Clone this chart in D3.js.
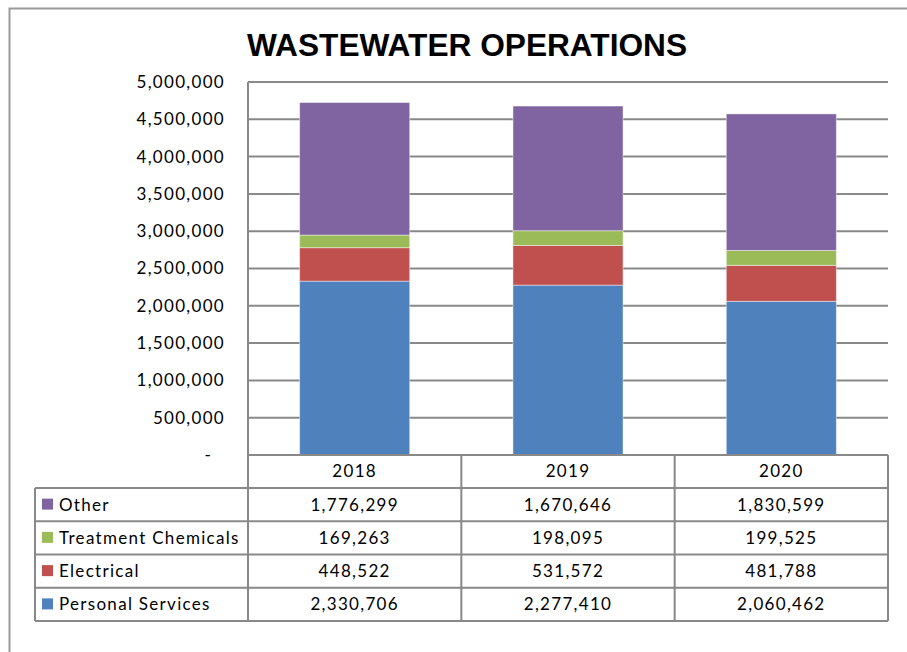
<!DOCTYPE html>
<html>
<head>
<meta charset="utf-8">
<script src="https://cdn.jsdelivr.net/npm/d3@7"></script>
<style>
  body { margin: 0; background: #fff; }
  svg { display: block; }
</style>
</head>
<body>
<div id="chart"></div>
<script>
// data
var years = ["2018", "2019", "2020"];
var seriesNames = ["Personal Services", "Electrical", "Treatment Chemicals", "Other"];
var personalServices = [2330706, 2277410, 2060462];
var electrical = [448522, 531572, 481788];
var treatmentChemicals = [169263, 198095, 199525];
var other = [1776299, 1670646, 1830599];
var colors = ["#4F81BD", "#C0504D", "#9BBB59", "#8064A2"];
var yTicks = [0, 500000, 1000000, 1500000, 2000000, 2500000, 3000000, 3500000, 4000000, 4500000, 5000000];

var width = 907, height = 652;
var plotLeft = 248, plotRight = 888, plotTop = 82, plotBottom = 455;
var tableBottom = 621, legendLeft = 35;
var font = "Lato, 'Open Sans', sans-serif";
var fontSize = "17px", spacing = "1.3px";
var gridColor = "#898989";

var rows = years.map(function(yr, i) {
  return {
    year: yr,
    "Personal Services": personalServices[i],
    "Electrical": electrical[i],
    "Treatment Chemicals": treatmentChemicals[i],
    "Other": other[i]
  };
});

var svg = d3.select("#chart").append("svg")
  .attr("width", width)
  .attr("height", height);

// outer frame
svg.append("rect")
  .attr("x", 9.5).attr("y", 8.5)
  .attr("width", width + 10).attr("height", height + 10)
  .attr("fill", "none")
  .attr("stroke", "#9a9a9a")
  .attr("stroke-width", 2);

svg.append("text")
  .attr("x", 467).attr("y", 56)
  .attr("text-anchor", "middle")
  .attr("textLength", 440)
  .attr("lengthAdjust", "spacingAndGlyphs")
  .style("font-family", "'Liberation Sans Narrow', 'Liberation Sans', sans-serif")
  .style("font-weight", "bold")
  .style("font-size", "31px")
  .text("WASTEWATER OPERATIONS");

var x = d3.scaleBand()
  .domain(years)
  .range([plotLeft, plotRight])
  .paddingInner(0.484)
  .paddingOuter(0.242);

var y = d3.scaleLinear()
  .domain([0, 5000000])
  .range([plotBottom, plotTop]);

var color = d3.scaleOrdinal().domain(seriesNames).range(colors);

// gridlines
svg.append("g")
  .selectAll("line")
  .data(yTicks.slice(1))
  .enter()
  .append("line")
  .attr("x1", plotLeft).attr("x2", plotRight)
  .attr("y1", function(d) { return y(d); })
  .attr("y2", function(d) { return y(d); })
  .attr("stroke", gridColor)
  .attr("stroke-width", 2);

// y axis labels
var fmt = d3.format(",");
var yAxis = d3.axisLeft(y)
  .tickValues(yTicks)
  .tickSize(0)
  .tickPadding(23)
  .tickFormat(function(d) { return d === 0 ? "-" : fmt(d); });

var ya = svg.append("g")
  .attr("transform", "translate(" + plotLeft + ",0)")
  .call(yAxis);
ya.select(".domain").remove();
ya.selectAll("text")
  .style("font-family", font)
  .style("font-size", fontSize)
  .style("letter-spacing", spacing)
  .attr("fill", "#000")
  .attr("dx", function(d) { return d === 0 ? -13 : 0; });

// stacked bars
var stack = d3.stack().keys(seriesNames);
var layers = stack(rows);

svg.append("g")
  .selectAll("g")
  .data(layers)
  .enter()
  .append("g")
  .attr("fill", function(d) { return color(d.key); })
  .selectAll("rect")
  .data(function(d) { return d; })
  .enter()
  .append("rect")
  .attr("x", function(d) { return x(d.data.year); })
  .attr("y", function(d) { return y(d[1]); })
  .attr("width", x.bandwidth())
  .attr("height", function(d) { return y(d[0]) - y(d[1]); })
  .attr("stroke", "rgba(255,255,255,0.45)")
  .attr("stroke-width", 1);

// data table
var rowOrder = seriesNames.slice().reverse();
var seriesValues = {
  "Other": other,
  "Treatment Chemicals": treatmentChemicals,
  "Electrical": electrical,
  "Personal Services": personalServices
};
var r = d3.scaleBand().domain(rowOrder).range([plotBottom + 33, tableBottom]);
var step = x.step();
var colEdges = d3.range(years.length + 1).map(function(i) { return plotLeft + i * step; });

var table = svg.append("g")
  .attr("stroke", gridColor)
  .attr("stroke-width", 2);

// horizontal lines
table.append("line")
  .attr("x1", plotLeft).attr("x2", plotRight)
  .attr("y1", plotBottom).attr("y2", plotBottom);
table.selectAll("line.h")
  .data(rowOrder.map(function(k) { return r(k); }).concat([tableBottom]))
  .enter()
  .append("line")
  .attr("class", "h")
  .attr("x1", legendLeft).attr("x2", plotRight)
  .attr("y1", function(d) { return d; })
  .attr("y2", function(d) { return d; });

// vertical lines
table.append("line")
  .attr("x1", plotLeft).attr("x2", plotLeft)
  .attr("y1", plotTop).attr("y2", tableBottom);
table.selectAll("line.v")
  .data(colEdges.slice(1))
  .enter()
  .append("line")
  .attr("class", "v")
  .attr("x1", function(d) { return d; }).attr("x2", function(d) { return d; })
  .attr("y1", plotBottom).attr("y2", tableBottom);
table.append("line")
  .attr("x1", legendLeft).attr("x2", legendLeft)
  .attr("y1", r(rowOrder[0])).attr("y2", tableBottom);

// header years
svg.append("g")
  .selectAll("text")
  .data(years)
  .enter()
  .append("text")
  .attr("x", function(d) { return x(d) + x.bandwidth() / 2; })
  .attr("y", (plotBottom + r(rowOrder[0])) / 2)
  .attr("dy", "0.35em")
  .attr("text-anchor", "middle")
  .style("font-family", font)
  .style("font-size", fontSize)
  .style("letter-spacing", spacing)
  .text(function(d) { return d; });

// legend rows
var legendRows = svg.append("g")
  .selectAll("g")
  .data(rowOrder)
  .enter()
  .append("g")
  .attr("transform", function(d) { return "translate(0," + (r(d) + r.bandwidth() / 2) + ")"; });

legendRows.append("rect")
  .attr("x", 42).attr("y", -6)
  .attr("width", 11).attr("height", 11)
  .attr("fill", function(d) { return color(d); });

legendRows.append("text")
  .attr("x", 59)
  .attr("dy", "0.35em")
  .style("font-family", font)
  .style("font-size", fontSize)
  .style("letter-spacing", spacing)
  .text(function(d) { return d; });

legendRows.selectAll("text.val")
  .data(function(d) { return seriesValues[d]; })
  .enter()
  .append("text")
  .attr("class", "val")
  .attr("x", function(d, i) { return x(years[i]) + x.bandwidth() / 2; })
  .attr("dy", "0.35em")
  .attr("text-anchor", "middle")
  .style("font-family", font)
  .style("font-size", fontSize)
  .style("letter-spacing", spacing)
  .text(function(d) { return fmt(d); });
</script>
</body>
</html>
